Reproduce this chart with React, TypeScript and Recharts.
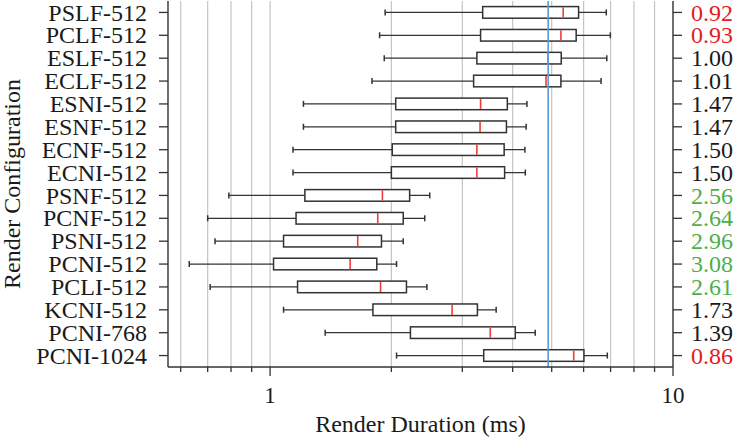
import React from 'react';
import { ComposedChart, Bar, XAxis, YAxis, CartesianGrid, ReferenceLine, Label } from 'recharts';

const configs = [
  'PSLF-512', 'PCLF-512', 'ESLF-512', 'ECLF-512', 'ESNI-512', 'ESNF-512', 'ECNF-512', 'ECNI-512',
  'PSNF-512', 'PCNF-512', 'PSNI-512', 'PCNI-512', 'PCLI-512', 'KCNI-512', 'PCNI-768', 'PCNI-1024',
];
const whiskerLow = [1.93, 1.87, 1.92, 1.79, 1.21, 1.21, 1.14, 1.14, 0.79, 0.70, 0.73, 0.63, 0.71, 1.08, 1.37, 2.06];
const quartile1 = [3.37, 3.33, 3.26, 3.20, 2.05, 2.05, 2.01, 2.00, 1.22, 1.16, 1.08, 1.02, 1.17, 1.80, 2.23, 3.39];
const medians = [5.34, 5.27, 4.90, 4.84, 3.33, 3.32, 3.26, 3.26, 1.90, 1.85, 1.65, 1.58, 1.88, 2.83, 3.52, 5.67];
const quartile3 = [5.83, 5.75, 5.28, 5.27, 3.88, 3.86, 3.81, 3.82, 2.22, 2.14, 1.89, 1.84, 2.18, 3.27, 4.06, 6.01];
const whiskerHigh = [6.83, 6.99, 6.85, 6.63, 4.34, 4.32, 4.29, 4.30, 2.49, 2.42, 2.14, 2.06, 2.45, 3.64, 4.55, 6.87];
const speedups = ['0.92', '0.93', '1.00', '1.01', '1.47', '1.47', '1.50', '1.50', '2.56', '2.64', '2.96', '3.08', '2.61', '1.73', '1.39', '0.86'];
const baselineMedian = 4.90;
const xTicks = [0.6, 0.7, 0.8, 0.9, 1, 2, 3, 4, 5, 6, 7, 8, 9, 10];
const xLabeled = [1, 10];
const xDomain = [0.558, 10];

const data = configs.map((name, i) => ({
  name,
  whisker: [whiskerLow[i], whiskerHigh[i]],
  box: [quartile1[i], quartile3[i]],
  median: [medians[i], medians[i]],
  speedup: speedups[i],
}));
const speedupByName: Record<string, string> = {};
data.forEach((d) => { speedupByName[d.name] = d.speedup; });

const FONT = 'Liberation Serif';
const DARK = '#333333';
const TEXT = '#1a1a1a';
const BOX_H = 11.6;

const WhiskerShape = (props: any) => {
  const { x, y, width, height } = props;
  const cy = y + height / 2;
  return (
    <g>
      <line x1={x} x2={x + width} y1={cy} y2={cy} stroke={DARK} strokeWidth={1.3} />
      <line x1={x} x2={x} y1={cy - 3} y2={cy + 3} stroke={DARK} strokeWidth={1.5} />
      <line x1={x + width} x2={x + width} y1={cy - 3} y2={cy + 3} stroke={DARK} strokeWidth={1.5} />
    </g>
  );
};

const BoxShape = (props: any) => {
  const { x, y, width, height } = props;
  const cy = y + height / 2;
  return <rect x={x} y={cy - BOX_H / 2} width={width} height={BOX_H} fill="#ffffff" stroke={DARK} strokeWidth={1.5} />;
};

const MedianShape = (props: any) => {
  const { x, y, height } = props;
  const cy = y + height / 2;
  return <line x1={x} x2={x} y1={cy - BOX_H / 2 + 0.7} y2={cy + BOX_H / 2 - 0.7} stroke="#f03c3c" strokeWidth={1.6} />;
};

const XTick = (props: any) => {
  const { x, y, payload } = props;
  const major = xLabeled.includes(payload.value);
  return (
    <g>
      <line x1={x} x2={x} y1={y} y2={y + (major ? 9 : 5)} stroke={DARK} strokeWidth={1.3} />
      {major && (
        <text x={x} y={y + 36} textAnchor="middle" fontFamily={FONT} fontSize={23} fill={TEXT}>
          {payload.value}
        </text>
      )}
    </g>
  );
};

const LeftTick = (props: any) => {
  const { x, y, payload } = props;
  return (
    <text x={x} y={y} dy="0.34em" textAnchor="end" fontFamily={FONT} fontSize={24} fill={TEXT}>
      {payload.value}
    </text>
  );
};

const speedColor = (s: string) => {
  const v = parseFloat(s);
  if (v < 1) return '#e41a1c';
  if (v > 2) return '#4daf4a';
  return TEXT;
};

const RightTick = (props: any) => {
  const { x, y, payload } = props;
  const s = speedupByName[payload.value];
  return (
    <text x={x} y={y} dy="0.34em" textAnchor="start" fontFamily={FONT} fontSize={24} fill={speedColor(s)}>
      {s}
    </text>
  );
};

const XTitle = (props: any) => {
  const { viewBox } = props;
  return (
    <text x={viewBox.x + viewBox.width / 2} y={viewBox.y + 65} textAnchor="middle" fontFamily={FONT} fontSize={24} fill={TEXT}>
      Render Duration (ms)
    </text>
  );
};

const YTitle = (props: any) => {
  const { viewBox } = props;
  const cy = viewBox.y + viewBox.height / 2;
  return (
    <text x={20} y={cy} transform={`rotate(-90, 20, ${cy})`} textAnchor="middle" fontFamily={FONT} fontSize={24} fill={TEXT}>
      Render Configuration
    </text>
  );
};

export default function App() {
  return (
    <div style={{ position: 'absolute', left: 0, top: 0, background: '#fff' }}>
      <ComposedChart
        width={734}
        height={441}
        data={data}
        layout="vertical"
        margin={{ top: 1, right: 0, bottom: 0, left: 0 }}
        barGap={-12.8}
        barCategoryGap={0}
      >
        <CartesianGrid horizontal={false} stroke="#c4c4c4" strokeWidth={1.2} />
        <XAxis
          type="number"
          scale="log"
          domain={xDomain}
          allowDataOverflow
          ticks={xTicks}
          interval={0}
          height={74}
          tickSize={0}
          tickMargin={0}
          tickLine={false}
          tick={<XTick />}
          axisLine={{ stroke: DARK, strokeWidth: 1.3 }}
        >
          <Label content={<XTitle />} />
        </XAxis>
        <XAxis
          xAxisId="top"
          orientation="top"
          type="number"
          scale="log"
          domain={xDomain}
          allowDataOverflow
          height={0}
          tick={false}
          tickLine={false}
          axisLine={{ stroke: DARK, strokeWidth: 1.3 }}
        />
        <YAxis
          type="category"
          dataKey="name"
          width={168}
          tickSize={9}
          tickMargin={12}
          interval={0}
          tick={<LeftTick />}
          tickLine={{ stroke: DARK, strokeWidth: 1.3 }}
          axisLine={{ stroke: DARK, strokeWidth: 1.3 }}
        >
          <Label content={<YTitle />} />
        </YAxis>
        <YAxis
          yAxisId="right"
          orientation="right"
          type="category"
          dataKey="name"
          width={61}
          tickSize={9}
          tickMargin={9}
          interval={0}
          tick={<RightTick />}
          tickLine={{ stroke: DARK, strokeWidth: 1.3 }}
          axisLine={{ stroke: DARK, strokeWidth: 1.3 }}
        />
        <Bar dataKey="whisker" barSize={12.8} shape={<WhiskerShape />} isAnimationActive={false} />
        <Bar dataKey="box" barSize={12.8} shape={<BoxShape />} isAnimationActive={false} />
        <ReferenceLine x={baselineMedian} stroke="#5b9bd5" strokeWidth={1.6} />
        <Bar dataKey="median" barSize={12.8} shape={<MedianShape />} isAnimationActive={false} />
      </ComposedChart>
    </div>
  );
}
